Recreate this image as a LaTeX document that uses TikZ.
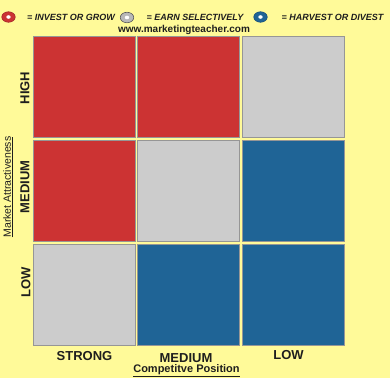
\documentclass[tikz,border=0pt]{standalone}
\usepackage{fontspec}
\setmainfont{Liberation Sans}
\usetikzlibrary{shapes.geometric}
\definecolor{bgc}{RGB}{255,250,153}
\definecolor{redc}{RGB}{204,51,51}
\definecolor{grayc}{RGB}{204,204,204}
\definecolor{bluec}{RGB}{31,100,150}
\definecolor{edgec}{RGB}{150,150,150}
\definecolor{txtc}{RGB}{30,30,30}
\tikzset{
  cell/.style={draw=edgec, line width=1pt, minimum width=102pt, minimum height=101.5pt, inner sep=0pt},
  donut/.style={ellipse, minimum width=13.5pt, minimum height=10.5pt, inner sep=0pt, line width=0.6pt},
  hole/.style={ellipse, fill=white, minimum width=4.4pt, minimum height=3.6pt, inner sep=0pt},
  legend/.style={anchor=base west, inner sep=0pt, font=\fontsize{9}{10}\selectfont\bfseries\itshape, text=txtc},
  axislab/.style={inner sep=0pt, font=\fontsize{13}{14}\selectfont\bfseries, text=txtc},
  axistitle/.style={inner sep=0pt, font=\fontsize{11}{12}\selectfont\bfseries, text=txtc}
}
\begin{document}
\begin{tikzpicture}[x=1pt,y=-1pt]
\fill[bgc] (0,0) rectangle (390,378);
\useasboundingbox (0,0) rectangle (390,378);
% legend
\node[donut, fill=redc, draw=redc!80!black] (dr) at (8.5,17) {};
\node[hole] (hr) at (dr.center) {};
\node[legend] (tr) at (27,20.2) {= INVEST OR GROW};
\node[donut, fill=grayc!90!black, draw=gray!70!black] (dg) at (127,17.5) {};
\node[hole] (hg) at (dg.center) {};
\node[legend] (tg) at (146.5,20.2) {= EARN SELECTIVELY};
\node[donut, fill=bluec, draw=bluec!80!black] (db) at (260.5,17) {};
\node[hole] (hb) at (db.center) {};
\node[legend] (tb) at (281.5,20.2) {= HARVEST OR DIVEST};
\node[inner sep=0pt, anchor=base, font=\fontsize{10}{11}\selectfont\bfseries, text=txtc] (www) at (184,32.5) {www.marketingteacher.com};
% grid
\node[cell, fill=redc] (c11) at (84,86.75) {};
\node[cell, fill=redc] (c12) at (188.5,86.75) {};
\node[cell, fill=grayc] (c13) at (293,86.75) {};
\node[cell, fill=redc] (c21) at (84,190.75) {};
\node[cell, fill=grayc] (c22) at (188.5,190.75) {};
\node[cell, fill=bluec] (c23) at (293,190.75) {};
\node[cell, fill=grayc] (c31) at (84,294.75) {};
\node[cell, fill=bluec] (c32) at (188.5,294.75) {};
\node[cell, fill=bluec] (c33) at (293,294.75) {};
% left labels
\node[axislab, rotate=90] (high) at (25,88) {HIGH};
\node[axislab, rotate=90] (med) at (25,187) {MEDIUM};
\node[axislab, rotate=90] (low) at (26,282) {LOW};
\node[inner sep=0pt, rotate=90, font=\fontsize{10.5}{12}\selectfont, text=txtc] (ma) at (8,187) {\underline{Market Attractiveness}};
% bottom labels
\node[axislab, anchor=base] (strong) at (84.5,360) {STRONG};
\node[axislab, anchor=base] (medium) at (186,362) {MEDIUM};
\node[axislab, anchor=base] (lowb) at (288.5,359) {LOW};
\node[axistitle, anchor=base] (cp) at (186.5,372.5) {\underline{Competitve Position}};
\end{tikzpicture}
\end{document}
